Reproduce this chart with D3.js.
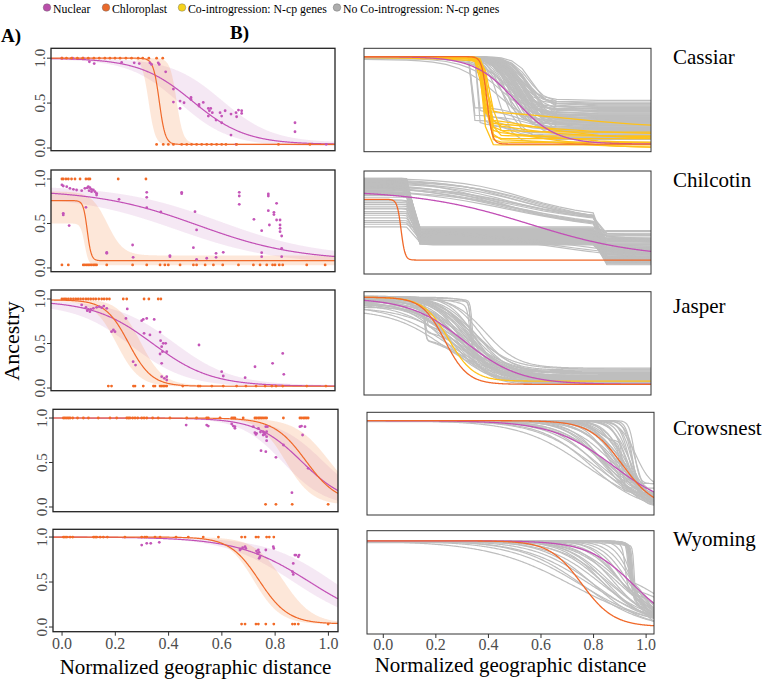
<!DOCTYPE html>
<html><head><meta charset="utf-8">
<script src="https://cdn.jsdelivr.net/npm/d3@7"></script>
<style>body{margin:0;background:#fff} svg text{font-family:"Liberation Serif","DejaVu Serif","Times New Roman",serif}</style>
</head><body><svg id="c" width="764" height="682" font-family="Liberation Serif, DejaVu Serif, serif"></svg>
<script>
// ---------------- DATA ----------------
const regions = ["Cassiar","Chilcotin","Jasper","Crowsnest","Wyoming"];
const xTicks = [0, 0.2, 0.4, 0.6, 0.8, 1.0];
const yTicks = [0, 0.5, 1.0];
const legendLabels = ["Nuclear","Chloroplast","Co-introgression: N-cp genes","No Co-introgression: N-cp genes"];

// observed sample points (x = normalized distance, y = ancestry)
const nucPts = [
 [[0.0,1],[0.04,1],[0.08,1],[0.103,0.96],[0.121,0.94],[0.224,0.952],[0.271,0.948],[0.29,0.94],[0.33,0.948],[0.336,0.93],[0.361,0.948],[0.365,0.93],[0.389,0.848],[0.418,0.656],[0.418,0.511],[0.443,0.441],[0.443,0.522],[0.458,0.504],[0.484,0.563],[0.484,0.541],[0.514,0.485],[0.514,0.467],[0.53,0.507],[0.549,0.441],[0.553,0.415],[0.558,0.441],[0.549,0.356],[0.564,0.393],[0.578,0.311],[0.593,0.393],[0.599,0.281],[0.612,0.415],[0.599,0.356],[0.634,0.144],[0.634,0.378],[0.653,0.393],[0.655,0.348],[0.662,0.422],[0.674,0.415],[0.674,0.385],[0.653,0.041],[0.874,0.281],[0.874,0.181],[0.991,0.041]],
 [[0.0,0.933],[0.005,0.921],[0.018,0.914],[0.03,0.895],[0.043,0.884],[0.055,0.876],[0.074,0.869],[0.086,0.895],[0.095,0.9],[0.099,0.914],[0.105,0.902],[0.111,0.884],[0.118,0.876],[0.124,0.857],[0.13,0.839],[0.13,0.82],[0.102,0.869],[0.111,0.857],[0.005,0.614],[0.005,0.596],[0.027,0.476],[0.09,0.681],[0.214,0.771],[0.318,0.85],[0.318,0.794],[0.318,0.678],[0.449,0.85],[0.449,0.835],[0.499,0.633],[0.505,0.427],[0.493,0.228],[0.265,0.258],[0.267,0.12],[0.371,0.629],[0.405,0.127],[0.405,0.139],[0.505,0.097],[0.543,0.109],[0.578,0.165],[0.578,0.12],[0.605,0.176],[0.665,0.85],[0.665,0.809],[0.665,0.715],[0.72,0.547],[0.749,0.419],[0.749,0.172],[0.749,0.127],[0.774,0.831],[0.774,0.809],[0.778,0.483],[0.774,0.644],[0.805,0.727],[0.795,0.625],[0.805,0.539],[0.818,0.539],[0.818,0.446],[0.818,0.408],[0.824,0.359],[0.824,0.221],[0.818,0.483],[0.824,0.127],[0.168,0.165],[0.168,0.176],[0.795,0.6]],
 [[0.074,0.933],[0.09,0.906],[0.099,0.884],[0.108,0.884],[0.118,0.895],[0.13,0.906],[0.14,0.914],[0.149,0.902],[0.157,0.921],[0.168,0.895],[0.095,0.869],[0.105,0.857],[0.193,0.652],[0.199,0.633],[0.186,0.633],[0.245,0.888],[0.24,0.782],[0.267,0.296],[0.276,0.258],[0.299,0.757],[0.305,0.771],[0.308,0.614],[0.318,0.782],[0.33,0.596],[0.346,0.771],[0.368,0.629],[0.37,0.532],[0.374,0.464],[0.38,0.502],[0.389,0.502],[0.374,0.277],[0.368,0.382],[0.377,0.408],[0.393,0.408],[0.374,0.127],[0.384,0.109],[0.393,0.127],[0.393,0.09],[0.514,0.483],[0.599,0.184],[0.605,0.135],[0.687,0.116],[0.724,0.239],[0.79,0.277],[0.828,0.389],[0.832,0.154]],
 [[0.466,0.921],[0.543,0.921],[0.549,0.91],[0.637,0.933],[0.643,0.91],[0.649,0.903],[0.649,0.884],[0.718,0.903],[0.724,0.835],[0.728,0.816],[0.737,0.884],[0.73,0.828],[0.745,0.843],[0.755,0.846],[0.758,0.835],[0.762,0.816],[0.765,0.903],[0.768,0.846],[0.771,0.903],[0.768,0.745],[0.765,0.622],[0.747,0.633],[0.803,0.558],[0.831,0.697],[0.863,0.161],[0.893,0.903],[0.899,0.91],[0.903,0.809],[0.912,0.903],[0.924,0.434],[0.768,0.79],[0.755,0.809]],
 [[0.299,0.911],[0.318,0.93],[0.333,0.93],[0.365,0.941],[0.668,0.856],[0.67,0.867],[0.678,0.881],[0.687,0.893],[0.69,0.874],[0.73,0.844],[0.733,0.819],[0.737,0.856],[0.74,0.83],[0.743,0.781],[0.74,0.763],[0.765,0.856],[0.793,0.893],[0.795,0.874],[0.868,0.707],[0.865,0.615],[0.868,0.585],[0.874,0.8],[0.878,0.8],[0.887,0.781],[0.89,0.8]]
];
const cpPts = [
 [[0.0,1],[0.017,1],[0.036,1],[0.058,1],[0.078,1],[0.099,1],[0.12,1],[0.14,1],[0.161,1],[0.18,1],[0.199,1],[0.218,1],[0.24,1],[0.261,1],[0.286,1],[0.303,1],[0.326,1],[0.355,1],[0.378,1],[0.355,0.04],[0.38,0.04],[0.399,0.04],[0.418,0.04],[0.449,0.04],[0.468,0.04],[0.486,0.04],[0.505,0.04],[0.524,0.04],[0.543,0.04],[0.561,0.04],[0.58,0.04],[0.599,0.04],[0.615,0.04],[0.655,0.04],[0.812,0.04],[0.93,0.04]],
 [[0.0,1],[0.005,1],[0.015,1],[0.024,1],[0.036,1],[0.049,1],[0.068,1],[0.09,1],[0.099,1],[0.105,1],[0.211,1],[0.315,1],[0.0,0.034],[0.024,0.034],[0.08,0.034],[0.086,0.034],[0.093,0.034],[0.099,0.034],[0.105,0.034],[0.111,0.034],[0.118,0.034],[0.124,0.034],[0.13,0.034],[0.168,0.034],[0.265,0.034],[0.318,0.034],[0.368,0.034],[0.386,0.034],[0.399,0.034],[0.443,0.034],[0.493,0.034],[0.505,0.034],[0.537,0.034],[0.568,0.034],[0.603,0.034],[0.662,0.034],[0.718,0.034],[0.743,0.034],[0.768,0.034],[0.79,0.034],[0.799,0.034],[0.815,0.034],[0.828,0.034],[0.918,0.034],[0.987,0.034]],
 [[0.0,1],[0.008,1],[0.015,1],[0.024,1],[0.033,1],[0.043,1],[0.052,1],[0.061,1],[0.07,1],[0.08,1],[0.09,1],[0.099,1],[0.108,1],[0.118,1],[0.127,1],[0.138,1],[0.149,1],[0.158,1],[0.168,1],[0.178,1],[0.23,1],[0.243,1],[0.308,1],[0.326,1],[0.361,1],[0.371,1],[0.174,0.022],[0.186,0.022],[0.268,0.022],[0.274,0.022],[0.305,0.022],[0.343,0.022],[0.349,0.022],[0.368,0.022],[0.374,0.022],[0.38,0.022],[0.386,0.022],[0.393,0.022],[0.453,0.022],[0.511,0.022],[0.518,0.022],[0.562,0.022],[0.605,0.022],[0.655,0.022],[0.69,0.022],[0.728,0.022],[0.762,0.022],[0.787,0.022],[0.803,0.022],[0.828,0.022],[0.918,0.022],[0.99,0.022]],
 [[0.005,1],[0.011,1],[0.018,1],[0.024,1],[0.03,1],[0.04,1],[0.058,1],[0.08,1],[0.099,1],[0.136,1],[0.18,1],[0.205,1],[0.243,1],[0.249,1],[0.255,1],[0.265,1],[0.274,1],[0.284,1],[0.299,1],[0.308,1],[0.318,1],[0.34,1],[0.361,1],[0.405,1],[0.468,1],[0.505,1],[0.543,1],[0.549,1],[0.593,1],[0.637,1],[0.643,1],[0.649,1],[0.68,1],[0.724,1],[0.73,1],[0.737,1],[0.743,1],[0.749,1],[0.755,1],[0.762,1],[0.768,1],[0.831,1],[0.893,1],[0.899,1],[0.906,1],[0.912,1],[0.918,1],[0.924,1],[0.764,0.03],[0.803,0.03],[0.864,0.03],[0.999,0.03]],
 [[0.005,1],[0.011,1],[0.018,1],[0.03,1],[0.04,1],[0.118,1],[0.124,1],[0.13,1],[0.143,1],[0.155,1],[0.17,1],[0.236,1],[0.299,1],[0.311,1],[0.318,1],[0.349,1],[0.368,1],[0.428,1],[0.474,1],[0.53,1],[0.587,1],[0.674,1],[0.687,1],[0.728,1],[0.737,1],[0.768,1],[0.778,1],[0.795,1],[0.674,0.033],[0.687,0.033],[0.728,0.033],[0.737,0.033],[0.765,0.033],[0.795,0.033],[0.865,0.033],[0.874,0.033],[0.887,0.033],[0.999,0.033]]
];

// fitted clines: [center, width, pmin, pmax]
const nucCline = [[0.49,0.40,0.04,1.0],[0.51,0.75,0.08,0.88],[0.34,0.44,0.02,0.98],[0.90,0.34,0.02,1.0],[0.93,0.54,0.0,1.0]];
const cpCline  = [[0.365,0.045,0.04,1.0],[0.095,0.03,0.082,0.757],[0.25,0.175,0.02,0.99],[0.915,0.24,0.04,1.0],[0.74,0.22,0.035,1.0]];
// confidence envelopes (upper / lower clines)
const nucHi = [[0.60,0.38,0.06,1.0],[0.59,0.75,0.12,0.93],[0.42,0.44,0.03,0.99],[0.98,0.34,0.03,1.0],[1.02,0.50,0.0,1.0]];
const nucLo = [[0.44,0.38,0.02,0.99],[0.43,0.75,0.04,0.82],[0.26,0.42,0.01,0.94],[0.83,0.32,0.0,1.0],[0.87,0.52,0.0,1.0]];
const cpHi  = [[0.43,0.05,0.05,1.0],[0.17,0.12,0.14,0.86],[0.295,0.17,0.03,1.0],[1.0,0.25,0.06,1.0],[0.83,0.22,0.04,1.0]];
const cpLo  = [[0.325,0.05,0.03,1.0],[0.085,0.03,0.03,0.5],[0.205,0.17,0.015,0.98],[0.84,0.2,0.02,1.0],[0.72,0.2,0.03,1.0]];
// clines as drawn in column B
const nucClineB = [[0.513,0.31,0.04,1.0],[0.57,0.85,0.10,0.86],[0.32,0.42,0.02,0.98],[0.874,0.466,0.0,1.0],[0.954,0.35,0.0,1.0]];
const cpClineB  = [[0.406,0.04,0.04,1.0],[0.079,0.03,0.082,0.757],[0.246,0.175,0.02,0.99],[0.91,0.25,0.02,1.0],[0.755,0.245,0.035,1.0]];

// sampling-site positions used to draw gene clines (column B)
const sitesCassiar = [-0.062,0.0,0.05,0.1,0.15,0.2,0.25,0.3,0.335,0.36,0.38,0.40,0.43,0.46,0.5,0.54,0.58,0.62,0.671,0.83,0.9,0.96,1.03];
const sitesChilcotin = [-0.062,0.0,0.04,0.08,0.1,0.151,0.2,0.26,0.32,0.38,0.44,0.5,0.56,0.62,0.68,0.74,0.79,0.81,0.862,0.93,1.03];

// gene clines: [pmax, center, width, pmin] or two-step [pmax, c1, w1, pmid, c2, w2, pmin]
const noCoGenesCassiar = [
 [1,0.53,0.15,0.52],[1,0.52,0.14,0.48],[1,0.55,0.16,0.46],[1,0.50,0.12,0.43],[1,0.53,0.16,0.40],[1,0.56,0.14,0.37],[1,0.49,0.13,0.35],[1,0.52,0.16,0.33],[1,0.54,0.13,0.31],[1,0.57,0.15,0.29],[1,0.50,0.14,0.27],[1,0.52,0.12,0.25],[1,0.55,0.17,0.23],[1,0.48,0.15,0.21],[1,0.51,0.17,0.19],[1,0.53,0.13,0.17],[1,0.56,0.16,0.15],[1,0.47,0.12,0.12],[1,0.51,0.15,0.36],[1,0.55,0.18,0.39],[0.98,0.46,0.28,0.28],[0.97,0.44,0.30,0.22],[0.99,0.47,0.24,0.34],[1,0.58,0.13,0.42],[1,0.46,0.14,0.26],[1,0.50,0.16,0.30],[1,0.54,0.15,0.24],[1,0.49,0.12,0.09],[1,0.45,0.10,0.06],
 [1,0.52,0.15,0.50],[1,0.54,0.17,0.47],[1,0.51,0.13,0.45],[1,0.56,0.15,0.44],[1,0.53,0.14,0.41],[1,0.50,0.15,0.38],[1,0.55,0.13,0.35],[1,0.52,0.17,0.32],[1,0.49,0.14,0.29],[1,0.53,0.12,0.28],[1,0.56,0.17,0.26],[1,0.48,0.13,0.23],[1,0.54,0.16,0.21],[1,0.51,0.13,0.18],[1,0.57,0.14,0.34],[1,0.50,0.17,0.41],[0.99,0.48,0.22,0.37],[0.98,0.50,0.26,0.31],
 [1,0.515,0.14,0.445],[1,0.535,0.15,0.395],[1,0.545,0.13,0.355],[1,0.505,0.16,0.315],[1,0.525,0.14,0.275],[1,0.555,0.15,0.245],[1,0.495,0.13,0.205],[1,0.535,0.16,0.165],[1,0.565,0.14,0.485],[1,0.52,0.15,0.135],
 [1,0.345,0.008,0.44,0.52,0.15,0.30],[1,0.345,0.008,0.36,0.50,0.15,0.20],[1,0.348,0.008,0.30,0.50,0.12,0.14],[1,0.37,0.01,0.40,0.52,0.14,0.26],[1,0.37,0.01,0.27,0.50,0.15,0.11],[1,0.39,0.012,0.34,0.55,0.15,0.22],[1,0.39,0.015,0.25,0.50,0.14,0.16]
];
const coGenesCassiar = [
 [1,0.39,0.03,0.03],[1,0.40,0.035,0.06],[1,0.395,0.04,0.10],[1,0.41,0.04,0.13],[1,0.40,0.03,0.45,0.70,0.9,0.20],[1,0.385,0.03,0.35,0.60,0.5,0.10],[1,0.405,0.04,0.28,0.55,0.4,0.12],[1,0.395,0.035,0.22,0.60,0.5,0.0],[1,0.42,0.05,0.18,0.65,0.5,0.05],[1,0.39,0.03,0.30,0.60,0.6,0.15],[1,0.41,0.03,0.10,0.70,0.5,0.0],[0.99,0.40,0.04,0.20,0.50,0.3,0.17]
];
const noCoGenesChilcotin = [
 [0.95,0.125,0.02,0.42,0.835,0.02,0.30],[0.92,0.125,0.02,0.40,0.835,0.02,0.10],[0.90,0.12,0.02,0.38,0.835,0.02,0.35],[0.88,0.13,0.02,0.36,0.835,0.02,0.06],[0.97,0.125,0.02,0.35,0.835,0.02,0.25],[0.85,0.12,0.02,0.34,0.835,0.02,0.15],[0.82,0.125,0.02,0.33,0.835,0.02,0.33],[0.93,0.13,0.02,0.32,0.835,0.02,0.08],[0.80,0.125,0.02,0.31,0.835,0.02,0.28],[0.96,0.12,0.02,0.30,0.835,0.02,0.20],[0.87,0.125,0.02,0.29,0.835,0.02,0.05],[0.78,0.13,0.02,0.28,0.835,0.02,0.22],[0.91,0.125,0.02,0.27,0.835,0.02,0.12],[0.75,0.12,0.02,0.26,0.835,0.02,0.26],[0.94,0.125,0.02,0.44,0.835,0.02,0.38],[0.86,0.13,0.02,0.41,0.835,0.02,0.18],[0.70,0.125,0.02,0.37,0.835,0.02,0.32],[0.65,0.12,0.02,0.30,0.835,0.02,0.10],[0.55,0.125,0.02,0.33,0.835,0.02,0.24],[0.45,0.125,0.02,0.28,0.835,0.02,0.14],[0.89,0.125,0.02,0.39,0.835,0.02,0.36],[0.98,0.13,0.02,0.36,0.835,0.02,0.29],
 [0.93,0.125,0.02,0.43,0.835,0.02,0.12],[0.90,0.13,0.02,0.41,0.835,0.02,0.07],[0.96,0.12,0.02,0.39,0.835,0.02,0.22],[0.84,0.125,0.02,0.37,0.835,0.02,0.05],[0.92,0.125,0.02,0.35,0.835,0.02,0.16],[0.99,0.13,0.02,0.34,0.835,0.02,0.06],[0.88,0.12,0.02,0.33,0.835,0.02,0.19],[0.95,0.125,0.02,0.31,0.835,0.02,0.09],[0.81,0.13,0.02,0.30,0.835,0.02,0.27],[0.97,0.125,0.02,0.29,0.835,0.02,0.14],[0.90,0.12,0.02,0.28,0.835,0.02,0.06],[0.86,0.125,0.02,0.27,0.835,0.02,0.21],[0.94,0.13,0.02,0.25,0.835,0.02,0.11],[0.60,0.125,0.02,0.35,0.835,0.02,0.08],[0.50,0.12,0.02,0.31,0.835,0.02,0.17],
 [0.72,0.125,0.02,0.38,0.835,0.02,0.12],[0.68,0.13,0.02,0.34,0.835,0.02,0.30],[0.62,0.125,0.02,0.42,0.835,0.02,0.20],[0.58,0.12,0.02,0.29,0.835,0.02,0.07],[0.52,0.125,0.02,0.36,0.835,0.02,0.26],[0.48,0.13,0.02,0.40,0.835,0.02,0.11],[0.66,0.125,0.02,0.27,0.835,0.02,0.16],[0.74,0.12,0.02,0.45,0.835,0.02,0.40],
 [0.91,0.125,0.02,0.38,0.835,0.02,0.04],[0.95,0.13,0.02,0.33,0.835,0.02,0.13],[0.83,0.125,0.02,0.40,0.835,0.02,0.23],[0.97,0.12,0.02,0.26,0.835,0.02,0.09],[0.89,0.125,0.02,0.43,0.835,0.02,0.31],[0.93,0.13,0.02,0.35,0.835,0.02,0.37],[0.86,0.12,0.02,0.32,0.835,0.02,0.41],[0.99,0.125,0.02,0.30,0.835,0.02,0.03],
 [0.90,0.125,0.02,0.45,0.60,0.8,0.10],[0.85,0.13,0.02,0.42,0.65,0.9,0.05],[0.95,0.125,0.02,0.40,0.70,0.7,0.12],
 [0.908,0.5,0.6,0.538,0.835,0.02,0.15],[0.95,0.55,0.6,0.50,0.835,0.02,0.10],[0.92,0.45,0.7,0.45,0.835,0.02,0.20],[0.98,0.5,0.5,0.55,0.84,0.02,0.05],[0.88,0.5,0.8,0.40,0.835,0.02,0.25],[0.96,0.6,0.6,0.48,0.84,0.02,0.18],[0.93,0.5,0.7,0.50,0.83,0.02,0.30],[0.99,0.45,0.6,0.45,0.84,0.02,0.08],[0.86,0.55,0.7,0.42,0.835,0.02,0.12],[0.94,0.5,0.55,0.52,0.835,0.02,0.35],
 [0.90,0.5,0.65,0.50,0.835,0.02,0.22],[0.97,0.55,0.55,0.52,0.84,0.02,0.13],[0.94,0.45,0.6,0.47,0.835,0.02,0.06],[0.91,0.5,0.75,0.44,0.83,0.02,0.28],[0.99,0.55,0.5,0.56,0.84,0.02,0.16]
];
const noCoGenesJasper = [
 [0.99,0.32,0.25,0.03],[0.98,0.30,0.30,0.05],[1,0.34,0.22,0.08],[0.97,0.28,0.35,0.04],[0.95,0.30,0.40,0.06],[1,0.36,0.20,0.10],[0.99,0.33,0.28,0.12],[0.96,0.27,0.30,0.02],[0.93,0.31,0.38,0.09],[1,0.35,0.26,0.15],[0.98,0.29,0.24,0.05],[0.90,0.26,0.45,0.03],[0.88,0.30,0.42,0.07],[1,0.38,0.22,0.18],[0.99,0.37,0.30,0.13],[0.97,0.33,0.33,0.11],[0.94,0.25,0.30,0.04],[1,0.40,0.25,0.20],[0.92,0.29,0.36,0.06],[0.99,0.31,0.20,0.02],[0.85,0.24,0.40,0.05],[0.98,0.36,0.24,0.08],
 [0.99,0.31,0.27,0.07],[0.97,0.29,0.32,0.10],[1,0.33,0.24,0.04],[0.96,0.32,0.36,0.14],[0.98,0.27,0.26,0.03],[0.94,0.28,0.34,0.08],[1,0.35,0.28,0.06],[0.92,0.26,0.38,0.11],[0.99,0.34,0.22,0.16],[0.97,0.30,0.28,0.09],
 [0.98,0.33,0.26,0.17],[0.99,0.35,0.30,0.19],[0.97,0.31,0.30,0.14],[1,0.37,0.26,0.11],
 [0.99,0.345,0.015,0.45,0.40,0.15,0.08],[0.98,0.35,0.015,0.40,0.42,0.15,0.12],[0.97,0.34,0.02,0.50,0.40,0.18,0.05],[0.96,0.345,0.015,0.35,0.45,0.2,0.15],[0.93,0.17,0.012,0.62,0.33,0.2,0.06],[0.90,0.17,0.012,0.55,0.32,0.25,0.10],[0.95,0.175,0.012,0.68,0.35,0.2,0.04],[0.88,0.17,0.012,0.58,0.30,0.3,0.12]
];
const coGenesJasper = [[0.99,0.26,0.19,0.055]];
const noCoGenesCrowsnest = [
 [1,0.77,0.50,0.0],[1,0.80,0.45,0.02],[1,0.82,0.40,0.03],[1,0.84,0.35,0.05],[1,0.85,0.30,0.02],[1,0.87,0.32,0.08],[1,0.88,0.25,0.04],[1,0.89,0.22,0.10],[1,0.90,0.20,0.06],[1,0.91,0.18,0.12],[1,0.92,0.15,0.03],[1,0.93,0.12,0.08],[1,0.935,0.10,0.15],[1,0.94,0.08,0.05],[1,0.945,0.06,0.20],[1,0.95,0.05,0.10],[1,0.86,0.38,0.0],[1,0.83,0.28,0.07],[1,0.81,0.34,0.04],[1,0.90,0.30,0.02],[1,0.92,0.26,0.05],[1,0.88,0.16,0.14],[0.99,0.79,0.38,0.01],[1,0.96,0.12,0.25],[1,0.955,0.04,0.30],
 [1,0.87,0.2,0.03],[1,0.89,0.28,0.01],[1,0.91,0.22,0.07],[1,0.93,0.18,0.02],[1,0.84,0.25,0.05],[1,0.86,0.42,0.02],[1,0.95,0.09,0.04],[1,0.92,0.1,0.18],[1,0.96,0.08,0.12],[1,0.94,0.14,0.09],
 [1,0.83,0.15,0.70,0.905,0.015,0.30],[1,0.82,0.12,0.75,0.91,0.015,0.25],[1,0.85,0.10,0.65,0.90,0.015,0.20]
];
const noCoGenesWyoming = [
 [1,0.72,0.65,0.0],[1,0.75,0.55,0.02],[1,0.78,0.50,0.05],[1,0.80,0.45,0.03],[1,0.82,0.40,0.08],[1,0.84,0.36,0.04],[1,0.86,0.32,0.10],[1,0.88,0.28,0.06],[1,0.90,0.25,0.12],[1,0.92,0.22,0.08],[1,0.94,0.18,0.15],[1,0.95,0.14,0.05],[1,0.87,0.40,0.0],[1,0.83,0.30,0.10],[1,0.91,0.35,0.05],[1,0.89,0.20,0.20],
 [1,0.93,0.2,0.1],[1,0.91,0.28,0.04],[1,0.89,0.34,0.08],[1,0.95,0.1,0.1],[1,0.85,0.3,0.06],[1,0.80,0.38,0.02],[1,0.76,0.48,0.0],
 [1,0.94,0.012,0.55,1.0,0.15,0.15],[1,0.945,0.012,0.50,1.0,0.12,0.10],[1,0.935,0.012,0.60,1.02,0.2,0.25],[1,0.95,0.012,0.45,0.98,0.1,0.05],[1,0.94,0.015,0.48,1.05,0.2,0.20],[1,0.93,0.015,0.58,1.0,0.1,0.12],[0.98,0.945,0.012,0.40,1.0,0.15,0.08],[1,0.92,0.02,0.52,0.98,0.15,0.18],[1,0.955,0.012,0.35,1.0,0.2,0.12],
 [1,0.94,0.015,0.42,1.0,0.12,0.06],[1,0.935,0.015,0.53,1.0,0.15,0.2],[1,0.945,0.015,0.47,1.02,0.18,0.15]
];

// ---------------- LAYOUT ----------------
const leftBox = [
 {x0:51,x1:335,y0:48.3,y1:150.7},{x0:51,x1:335,y0:170,y1:271.7},{x0:51,x1:335,y0:290,y1:390.7},
 {x0:53,x1:338,y0:409.3,y1:511.7},{x0:53,x1:338,y0:529.3,y1:631.7}];
const rightBox = [
 {x0:364,x1:651,y0:48.3,y1:151.7},{x0:364,x1:651,y0:171,y1:274},{x0:364,x1:651,y0:291.7,y1:395},
 {x0:367,x1:654,y0:412.3,y1:515},{x0:367,x1:654,y0:530.7,y1:634}];
const leftXDom = [[-0.041,1.024],[-0.041,1.024],[-0.041,1.024],[-0.034,1.036],[-0.034,1.036]];
const leftYDom = [[-0.03,1.11],[-0.042,1.101],[-0.03,1.101],[-0.053,1.098],[-0.052,1.086]];
const rightXDom = [-0.062,1.03];
const rightYDom = [[-0.044,1.092],[-0.073,1.072],[-0.099,1.052],[-0.048,1.093],[-0.047,1.114]];

const FONT = "Liberation Serif, DejaVu Serif, serif";
const COL = {nuc:"#C24FB6", cp:"#F0692A", co:"#FFC21A", gray:"#BEBEBE"};
const svg = d3.select("#c");
const defs = svg.append("defs");

function S(x,c,w){return 1/(1+Math.exp(4*(x-c)/w));}
function cline(x,p){return p[2]+(p[3]-p[2])*S(x,p[0],p[1]);}
function gene(x,g){
  if(g.length===4) return g[3]+(g[0]-g[3])*S(x,g[1],g[2]);
  return g[6]+(g[3]-g[6])*S(x,g[4],g[5])+(g[0]-g[3])*S(x,g[1],g[2]);
}
function txt(sel){return sel.append("text").attr("font-family",FONT);}

const noCo = [noCoGenesCassiar,noCoGenesChilcotin,noCoGenesJasper,noCoGenesCrowsnest,noCoGenesWyoming];
const coG = [coGenesCassiar,[],coGenesJasper,[],[]];
const siteGrids = [sitesCassiar,sitesChilcotin,null,null,null];

for(let r=0;r<5;r++){
  // ---- left panel ----
  const b = leftBox[r];
  const xs = d3.scaleLinear().domain(leftXDom[r]).range([b.x0,b.x1]);
  const ys = d3.scaleLinear().domain(leftYDom[r]).range([b.y1,b.y0]);
  const g = svg.append("g");
  defs.append("clipPath").attr("id","cl"+r).append("rect").attr("x",b.x0).attr("y",b.y0).attr("width",b.x1-b.x0).attr("height",b.y1-b.y0);
  const inner = g.append("g").attr("clip-path","url(#cl"+r+")");
  const dense = d3.range(leftXDom[r][0], leftXDom[r][1]+0.0001, 0.002);
  const area = (hi,lo)=>d3.area().x(d=>xs(d)).y0(d=>ys(cline(d,lo))).y1(d=>ys(cline(d,hi)))(dense);
  inner.append("path").attr("d",area(nucHi[r],nucLo[r])).attr("fill","#C77DC4").attr("fill-opacity",0.18);
  inner.append("path").attr("d",area(cpHi[r],cpLo[r])).attr("fill","#F6A26B").attr("fill-opacity",0.26);
  const ln = p=>d3.line().x(d=>xs(d)).y(d=>ys(cline(d,p)))(dense);
  inner.append("path").attr("d",ln(nucCline[r])).attr("fill","none").attr("stroke",COL.nuc).attr("stroke-width",1.2);
  inner.append("path").attr("d",ln(cpCline[r])).attr("fill","none").attr("stroke",COL.cp).attr("stroke-width",1.2);
  inner.selectAll(".pn").data(nucPts[r]).join("circle").attr("cx",d=>xs(d[0])).attr("cy",d=>ys(d[1])).attr("r",1.4).attr("fill","#C455B8");
  inner.selectAll(".pc").data(cpPts[r]).join("circle").attr("cx",d=>xs(d[0])).attr("cy",d=>ys(d[1])).attr("r",1.4).attr("fill","#F26A26");
  g.append("rect").attr("x",b.x0).attr("y",b.y0).attr("width",b.x1-b.x0).attr("height",b.y1-b.y0).attr("fill","none").attr("stroke","#222").attr("stroke-width",1.3);
  yTicks.forEach(t=>{
    g.append("line").attr("x1",b.x0-4).attr("x2",b.x0).attr("y1",ys(t)).attr("y2",ys(t)).attr("stroke","#333").attr("stroke-width",1);
    txt(g).attr("transform",`translate(${b.x0-6},${ys(t)}) rotate(-90)`).attr("text-anchor","middle")
      .attr("font-size",15).attr("fill","#4D4D4D").text(d3.format(".1f")(t));
  });
  if(r===4){
    xTicks.forEach(t=>{
      g.append("line").attr("x1",xs(t)).attr("x2",xs(t)).attr("y1",b.y1).attr("y2",b.y1+4).attr("stroke","#333");
      txt(g).attr("x",xs(t)).attr("y",b.y1+17).attr("text-anchor","middle").attr("font-size",16).attr("fill","#4D4D4D").text(d3.format(".1f")(t));
    });
    txt(g).attr("x",(b.x0+b.x1)/2).attr("y",674).attr("text-anchor","middle").attr("font-size",21).text("Normalized geographic distance");
  }

  // ---- right panel ----
  const rb = rightBox[r];
  const xr = d3.scaleLinear().domain(rightXDom).range([rb.x0,rb.x1]);
  const yr = d3.scaleLinear().domain(rightYDom[r]).range([rb.y1,rb.y0]);
  const gr = svg.append("g");
  defs.append("clipPath").attr("id","cr"+r).append("rect").attr("x",rb.x0).attr("y",rb.y0).attr("width",rb.x1-rb.x0).attr("height",rb.y1-rb.y0);
  const innerR = gr.append("g").attr("clip-path","url(#cr"+r+")");
  const grid = siteGrids[r] || d3.range(rightXDom[0], rightXDom[1]+0.0001, 0.004);
  const gl = d3.line().x(d=>xr(d[0])).y(d=>yr(d[1]));
  noCo[r].forEach(gp=>{
    innerR.append("path").attr("d",gl(grid.map(x=>[x,gene(x,gp)]))).attr("fill","none").attr("stroke",COL.gray).attr("stroke-width",1.2);
  });
  coG[r].forEach(gp=>{
    innerR.append("path").attr("d",gl(grid.map(x=>[x,gene(x,gp)]))).attr("fill","none").attr("stroke",COL.co).attr("stroke-width",1.3);
  });
  const denseR = d3.range(rightXDom[0], rightXDom[1]+0.0001, 0.002);
  innerR.append("path").attr("d",gl(denseR.map(x=>[x,cline(x,nucClineB[r])]))).attr("fill","none").attr("stroke",COL.nuc).attr("stroke-width",1.3);
  innerR.append("path").attr("d",gl(denseR.map(x=>[x,cline(x,cpClineB[r])]))).attr("fill","none").attr("stroke",COL.cp).attr("stroke-width",1.3);
  gr.append("rect").attr("x",rb.x0).attr("y",rb.y0).attr("width",rb.x1-rb.x0).attr("height",rb.y1-rb.y0).attr("fill","none").attr("stroke","#333").attr("stroke-width",1);
  if(r===4){
    xTicks.forEach(t=>{
      gr.append("line").attr("x1",xr(t)).attr("x2",xr(t)).attr("y1",rb.y1).attr("y2",rb.y1+4).attr("stroke","#333");
      txt(gr).attr("x",xr(t)).attr("y",rb.y1+16).attr("text-anchor","middle").attr("font-size",16).attr("fill","#4D4D4D").text(d3.format(".1f")(t));
    });
    txt(gr).attr("x",(rb.x0+rb.x1)/2).attr("y",672).attr("text-anchor","middle").attr("font-size",21).text("Normalized geographic distance");
  }
  const labelY = [64,187,313,435,546];
  txt(svg).attr("x",673).attr("y",labelY[r]).attr("font-size",21).text(regions[r]);
}

// panel letters & y title
txt(svg).attr("x",1).attr("y",42).attr("font-size",19).attr("font-weight","bold").text("A)");
txt(svg).attr("x",230).attr("y",39).attr("font-size",19).attr("font-weight","bold").text("B)");
txt(svg).attr("transform","translate(19,341) rotate(-90)").attr("text-anchor","middle").attr("font-size",22).text("Ancestry");

// legend
const legCol = ["#B94FAA","#E96A2C","#F5D21C","#ADADAD"];
const legX = [47,106,182,337];
legendLabels.forEach((t,i)=>{
  svg.append("circle").attr("cx",legX[i]).attr("cy",7.5).attr("r",3.8).attr("fill",legCol[i]).attr("stroke","#666").attr("stroke-width",0.4);
  txt(svg).attr("x",legX[i]+6).attr("y",12.5).attr("font-size",11.8).text(t);
});
</script></body></html>
